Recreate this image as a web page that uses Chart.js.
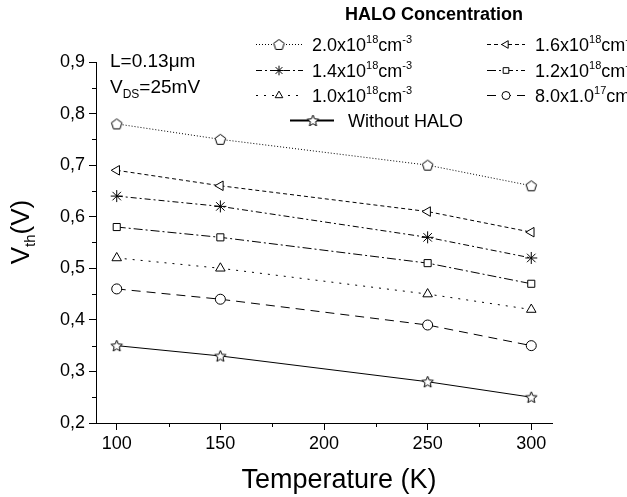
<!DOCTYPE html>
<html>
<head>
<meta charset="utf-8">
<script src="https://cdn.jsdelivr.net/npm/chart.js@4/dist/chart.umd.min.js"></script>
<style>
html,body{margin:0;padding:0;background:#fff;}
#wrap{width:627px;height:497px;position:relative;}
</style>
</head>
<body>
<div id="wrap"><canvas id="c" width="627" height="497"></canvas></div>
<script>
// ---- data ----
const temperatures = [100, 150, 250, 300];
const halo20 = [0.78, 0.75, 0.70, 0.66];
const halo16 = [0.69, 0.66, 0.61, 0.57];
const halo14 = [0.64, 0.62, 0.56, 0.52];
const halo12 = [0.58, 0.56, 0.51, 0.47];
const halo10 = [0.52, 0.50, 0.45, 0.42];
const halo08 = [0.46, 0.44, 0.39, 0.35];
const noHalo = [0.35, 0.33, 0.28, 0.25];
const xTickValues = [100, 150, 200, 250, 300];
const yTickValues = [0.2, 0.3, 0.4, 0.5, 0.6, 0.7, 0.8, 0.9];
const legendTitle = 'HALO Concentration';
const legendMantissa = ['2.0x10', '1.6x10', '1.4x10', '1.2x10', '1.0x10', '8.0x1.0'];
const legendExp = ['18', '18', '18', '18', '18', '17'];
const legendUnit = 'cm';
const legendUnitExp = '-3';
const noHaloLabel = 'Without HALO';

const FONT = '"Liberation Sans", Arial, Helvetica, sans-serif';

// ---- custom marker images ----
function makeMarker(drawFn, size) {
  const c = document.createElement('canvas');
  c.width = size; c.height = size;
  const g = c.getContext('2d');
  g.fillStyle = '#fff'; g.strokeStyle = '#000'; g.lineWidth = 1;
  drawFn(g, size / 2, size / 2);
  return c;
}
const pentagon = makeMarker((g, cx, cy) => {
  const r = 5.5;
  g.beginPath();
  for (let i = 0; i < 5; i++) {
    const a = -Math.PI / 2 + i * 2 * Math.PI / 5;
    const px = cx + r * Math.cos(a), py = cy + 0.5 + r * Math.sin(a);
    i ? g.lineTo(px, py) : g.moveTo(px, py);
  }
  g.closePath(); g.fill(); g.stroke();
}, 15);
const star5 = makeMarker((g, cx, cy) => {
  const ro = 6, ri = 2.7;
  g.beginPath();
  for (let i = 0; i < 10; i++) {
    const a = -Math.PI / 2 + i * Math.PI / 5;
    const r = i % 2 ? ri : ro;
    const px = cx + r * Math.cos(a), py = cy + 0.5 + r * Math.sin(a);
    i ? g.lineTo(px, py) : g.moveTo(px, py);
  }
  g.closePath(); g.fill(); g.stroke();
}, 15);

const seriesDefs = [
  { data: halo20, style: pentagon, rot: 0, dash: [1, 2], radius: 5 },
  { data: halo16, style: 'triangle', rot: -90, dash: [4, 3], radius: 5.5 },
  { data: halo14, style: 'star', rot: 0, dash: [6, 3, 2, 3], radius: 6 },
  { data: halo12, style: 'rect', rot: 0, dash: [9, 3, 2, 3], radius: 5 },
  { data: halo10, style: 'triangle', rot: 0, dash: [2, 6], radius: 5.5 },
  { data: halo08, style: 'circle', rot: 0, dash: [9, 6], radius: 5 },
  { data: noHalo, style: star5, rot: 0, dash: [], radius: 6 }
];

const datasets = seriesDefs.map((s, i) => ({
  label: i < 6 ? legendMantissa[i] : noHaloLabel,
  data: temperatures.map((t, j) => ({ x: t, y: s.data[j] })),
  borderColor: '#000',
  borderWidth: 1,
  borderDash: s.dash,
  pointStyle: s.style,
  pointRotation: s.rot,
  pointRadius: s.radius,
  pointBackgroundColor: '#fff',
  pointBorderColor: '#000',
  pointBorderWidth: 1,
  fill: false,
  tension: 0
}));

// ---- text & decorations plugin ----
function supText(ctx, x, y, parts) {
  // parts: [text, size, dy]
  let cx = x;
  for (const [t, size, dy, weight] of parts) {
    ctx.font = (weight || 'normal') + ' ' + size + 'px ' + FONT;
    ctx.fillText(t, cx, y + dy);
    cx += ctx.measureText(t).width;
  }
  return cx;
}
function partsWidth(ctx, parts) {
  let w = 0;
  for (const [t, size, dy, weight] of parts) {
    ctx.font = (weight || 'normal') + ' ' + size + 'px ' + FONT;
    w += ctx.measureText(t).width;
  }
  return w;
}

const decor = {
  id: 'decor',
  afterDraw(chart) {
    const ctx = chart.ctx;
    const xs = chart.scales.x, ys = chart.scales.y;
    ctx.save();
    ctx.strokeStyle = '#000'; ctx.lineWidth = 1; ctx.setLineDash([]);
    // minor ticks
    for (let k = 0; k < yTickValues.length - 1; k++) {
      const v = (yTickValues[k] + yTickValues[k + 1]) / 2;
      const py = Math.round(ys.getPixelForValue(v)) + 0.5;
      ctx.beginPath(); ctx.moveTo(xs.left - 4, py); ctx.lineTo(xs.left, py); ctx.stroke();
    }
    for (let k = 0; k < xTickValues.length - 1; k++) {
      const v = (xTickValues[k] + xTickValues[k + 1]) / 2;
      const px = Math.round(xs.getPixelForValue(v)) + 0.5;
      ctx.beginPath(); ctx.moveTo(px, ys.bottom); ctx.lineTo(px, ys.bottom + 4); ctx.stroke();
    }
    ctx.fillStyle = '#000';
    ctx.textBaseline = 'alphabetic';
    ctx.textAlign = 'left';

    // axis titles
    ctx.font = '27px ' + FONT;
    ctx.textAlign = 'center';
    ctx.fillText('Temperature (K)', 339, 488);
    ctx.textAlign = 'left';
    ctx.save();
    ctx.translate(29, 232);
    ctx.rotate(-Math.PI / 2);
    const yParts = [['V', 26, 0], ['th', 15, 6], ['(V)', 26, 0]];
    const yw = partsWidth(ctx, yParts);
    supText(ctx, -yw / 2, 0, yParts);
    ctx.restore();

    // annotation
    supText(ctx, 110, 67, [['L=0.13\u03BCm', 19, 0]]);
    supText(ctx, 110, 93, [['V', 19, 0], ['DS', 12, 5], ['=25mV', 19, 0]]);

    // legend title
    ctx.font = 'bold 18px ' + FONT;
    ctx.textAlign = 'center';
    ctx.fillText(legendTitle, 434, 20);
    ctx.textAlign = 'left';

    // legend entries
    const rows = [44, 70, 95];
    const cols = [
      { l0: 256, l1: 303, m: 279, t: 312 },
      { l0: 487, l1: 525, m: 506, t: 535 }
    ];
    const entries = [];
    for (let i = 0; i < 6; i++) {
      entries.push({ i, col: cols[i % 2], y: rows[Math.floor(i / 2)] });
    }
    entries.push({ i: 6, col: { l0: 290, l1: 334, m: 313, t: 348 }, y: 120 });
    for (const e of entries) {
      const s = seriesDefs[e.i];
      ctx.save();
      ctx.setLineDash(s.dash);
      ctx.lineWidth = e.i === 6 ? 2 : 1;
      ctx.beginPath();
      ctx.moveTo(e.col.l0, e.y + 0.5); ctx.lineTo(e.col.l1, e.y + 0.5); ctx.stroke();
      ctx.restore();
      ctx.save();
      ctx.strokeStyle = '#000'; ctx.fillStyle = '#fff'; ctx.lineWidth = 1;
      Chart.helpers.drawPoint(ctx, {
        pointStyle: s.style, rotation: s.rot, radius: s.radius * 0.8, borderWidth: 1
      }, e.col.m, e.y + 0.5);
      ctx.restore();
      ctx.fillStyle = '#000';
      const base = e.y + 6.5;
      if (e.i < 6) {
        supText(ctx, e.col.t, base, [
          [legendMantissa[e.i], 18, 0], [legendExp[e.i], 11, -8],
          [legendUnit, 18, 0], [legendUnitExp, 11, -8]
        ]);
      } else {
        supText(ctx, e.col.t, base, [[noHaloLabel, 18, 0]]);
      }
    }
    ctx.restore();
  }
};

new Chart(document.getElementById('c'), {
  type: 'line',
  data: { datasets },
  options: {
    responsive: false,
    animation: false,
    devicePixelRatio: 1,
    layout: { padding: { left: 0, top: 62, right: 75, bottom: 0 } },
    plugins: { legend: { display: false }, tooltip: { enabled: false } },
    scales: {
      x: {
        type: 'linear',
        min: 90, max: 310,
        afterBuildTicks: (s) => { s.ticks = xTickValues.map(v => ({ value: v })); },
        afterFit: (s) => { s.height = 74; },
        grid: { display: true, drawOnChartArea: false, drawTicks: true, tickLength: 7, color: '#000', tickColor: '#000' },
        border: { display: true, color: '#000', width: 1 },
        ticks: { color: '#000', padding: 3, maxRotation: 0, font: { family: FONT, size: 18 } }
      },
      y: {
        type: 'linear',
        min: 0.2, max: 0.9,
        afterBuildTicks: (s) => { s.ticks = yTickValues.map(v => ({ value: v })); },
        afterFit: (s) => { s.width = 96; },
        grid: { display: true, drawOnChartArea: false, drawTicks: true, tickLength: 7, color: '#000', tickColor: '#000' },
        border: { display: true, color: '#000', width: 1 },
        ticks: {
          color: '#000', padding: 4, font: { family: FONT, size: 18 },
          callback: (v) => Number(v).toFixed(1).replace('.', ',')
        }
      }
    }
  },
  plugins: [decor]
});
</script>
</body>
</html>
